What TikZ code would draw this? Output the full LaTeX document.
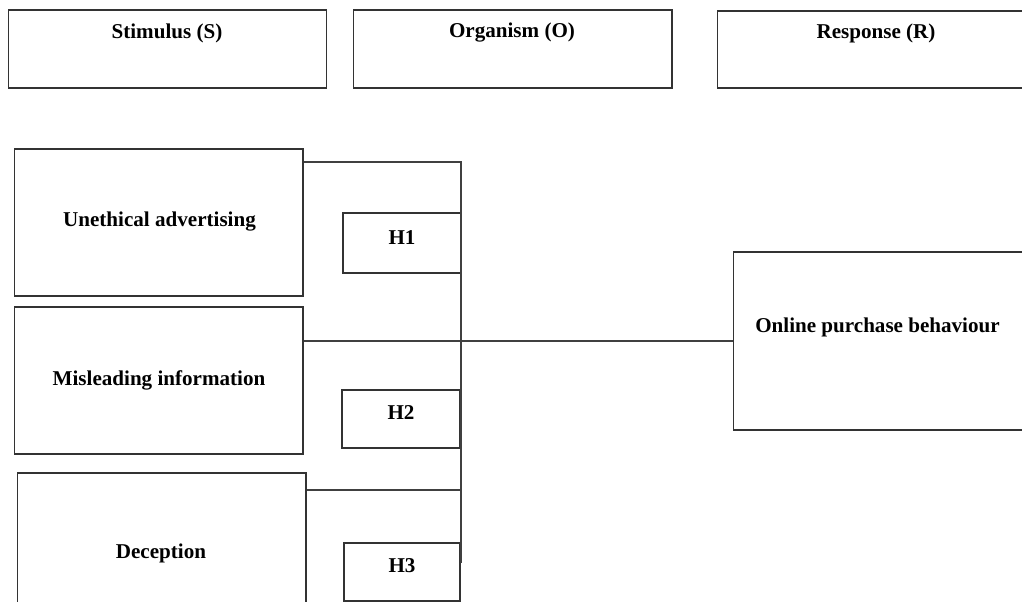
\documentclass[tikz,border=0pt]{standalone}
\usepackage{fontspec}
\setmainfont{Liberation Serif}
\usetikzlibrary{positioning}

\begin{document}
\begin{tikzpicture}[x=0.02cm, y=-0.02cm,
    box/.style={draw=black!80, line width=0.6pt, inner sep=0pt},
    lbl/.style={font=\fontsize{12}{14}\selectfont\bfseries, inner sep=1pt},
    link/.style={draw=black!75, line width=0.6pt}]
  \clip (0,0) rectangle (1022,602);

  %% S-O-R header boxes
  \node[box, minimum width=6.38cm, minimum height=1.56cm] (stim) at (167.5,49) {};
  \node[box, minimum width=6.38cm, minimum height=1.56cm] (orga) at (512.5,49) {};
  \node[box, minimum width=6.5cm, minimum height=1.54cm] (resp) at (879.5,49.5) {};
  \node[lbl] (stim-t) at (167,33) {Stimulus (S)};
  \node[lbl] (orga-t) at (512,33) {Organism (O)};
  \node[lbl] (resp-t) at (876,33) {Response (R)};

  %% stimulus constructs
  \node[box, minimum width=5.78cm, minimum height=2.94cm] (unethical) at (158.5,222.5) {};
  \node[box, minimum width=5.78cm, minimum height=2.94cm] (misleading) at (158.5,380.5) {};
  \node[box, minimum width=5.78cm, minimum height=2.94cm] (deception) at (161.5,546.5) {};
  \node[lbl] (unethical-t) at (159.5,222) {Unethical advertising};
  \node[lbl] (misleading-t) at (159,380) {Misleading information};
  \node[lbl] (deception-t) at (161,553) {Deception};

  %% hypotheses
  \node[box, minimum width=2.36cm, minimum height=1.2cm] (h1) at (402,243) {};
  \node[box, minimum width=2.36cm, minimum height=1.16cm] (h2) at (401,419) {};
  \node[box, minimum width=2.32cm, minimum height=1.16cm] (h3) at (402,572) {};
  \node[lbl] (h1-t) at (402,238) {H1};
  \node[lbl] (h2-t) at (401,413) {H2};
  \node[lbl] (h3-t) at (402,566) {H3};

  %% response
  \node[box, minimum width=5.94cm, minimum height=3.56cm] (purchase) at (881.5,341) {};
  \node[lbl] (purchase-t) at (877.5,327) {Online purchase behaviour};

  %% connectors
  \coordinate (jtop) at (461,162);
  \coordinate (jlow) at (461,490);
  \coordinate (jbot) at (461,563);
  \draw[link] (unethical.east |- jtop) -- (jtop) -- (jbot);
  \draw[link] (misleading.east |- purchase.west) -- (purchase.west);
  \draw[link] (deception.east |- jlow) -- (jlow);
\end{tikzpicture}
\end{document}
